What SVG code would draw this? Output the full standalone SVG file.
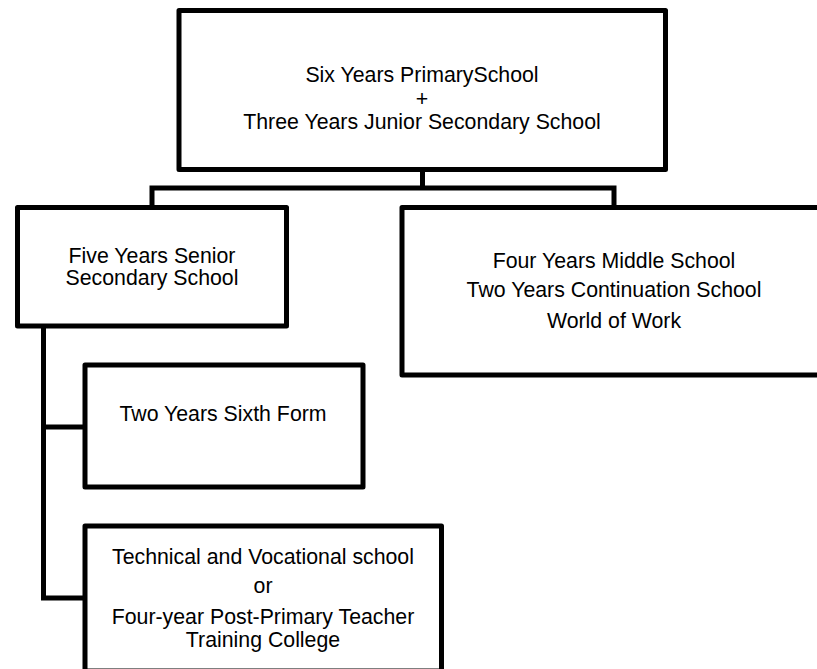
<svg xmlns="http://www.w3.org/2000/svg" width="817" height="669" viewBox="0 0 817 669">
  <style>
    .box { fill: #ffffff; stroke: #000000; stroke-width: 5; stroke-linejoin: round; }
    .link { fill: none; stroke: #000000; stroke-width: 5; stroke-linejoin: miter; }
    text { font-family: "Liberation Sans", Arial, sans-serif; font-size: 21.3px; fill: #000000; text-anchor: middle; }
  </style>
  <rect width="817" height="669" fill="#ffffff"/>

  <!-- connectors -->
  <g id="connectors">
    <path class="link" d="M422.5,169.5 V188 M152,207 V188 H614 V207"/>
    <path class="link" d="M43.5,326 V598 H85 M43.5,427 H85"/>
  </g>

  <g id="primary-junior">
    <rect class="box" x="179" y="10.5" width="486.5" height="159"/>
    <text x="422" y="82">Six Years PrimarySchool</text>
    <text x="422" y="106">+</text>
    <text x="422" y="129">Three Years Junior Secondary School</text>
  </g>

  <g id="senior-secondary">
    <rect class="box" x="17.5" y="207.5" width="269" height="118.5"/>
    <text x="152" y="263">Five Years Senior</text>
    <text x="152" y="285">Secondary School</text>
  </g>

  <g id="middle-school">
    <rect class="box" x="402" y="207.5" width="430" height="167.5"/>
    <text x="614" y="268">Four Years Middle School</text>
    <text x="614" y="297">Two Years Continuation School</text>
    <text x="614" y="328">World of Work</text>
  </g>

  <g id="sixth-form">
    <rect class="box" x="85" y="365" width="278" height="122"/>
    <text x="223" y="421">Two Years Sixth Form</text>
  </g>

  <g id="technical-vocational">
    <rect class="box" x="85" y="526" width="356.5" height="145"/>
    <text x="263" y="564">Technical and Vocational school</text>
    <text x="263" y="593">or</text>
    <text x="263" y="624">Four-year Post-Primary Teacher</text>
    <text x="263" y="647">Training College</text>
  </g>
</svg>
